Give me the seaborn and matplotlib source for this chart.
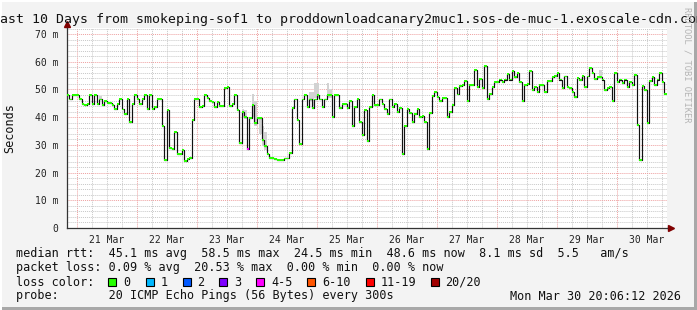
import numpy as np
import pandas as pd
import matplotlib
matplotlib.use("Agg")
import matplotlib.pyplot as plt
import matplotlib.dates as mdates
from matplotlib.patches import Rectangle
from matplotlib.ticker import MultipleLocator, FuncFormatter
import seaborn as sns

# ---------------- data ----------------
start_time = "2026-03-20 20:00"
view_start = "2026-03-20 20:06"
view_end = "2026-03-30 20:06"

median_ms = [
    48.0, 46.4, 48.0, 48.0, 48.0, 46.7, 44.9, 44.4, 44.9, 48.0,
    44.9, 48.0, 44.9, 46.4, 44.4, 45.9, 45.2, 45.2, 44.4, 43.1,
    44.9, 46.7, 42.8, 41.2, 46.7, 38.4, 44.9, 48.0, 46.7, 44.9,
    46.7, 48.0, 43.1, 48.0, 43.1, 43.6, 46.7, 46.7, 36.9, 24.4,
    42.6, 29.0, 28.5, 34.8, 26.6, 26.6, 28.1, 24.2, 24.8, 25.4,
    39.0, 46.6, 46.6, 43.8, 44.1, 48.0, 46.8, 45.8, 45.6, 43.8,
    45.4, 44.1, 44.1, 50.4, 50.8, 44.0, 44.7, 48.0, 42.6, 30.8,
    42.0, 40.2, 28.5, 39.6, 44.4, 37.8, 39.8, 39.6, 31.8, 29.7,
    26.6, 25.4, 25.2, 24.9, 24.7, 24.7, 24.7, 25.1, 25.1, 27.2,
    43.2, 46.4, 39.0, 30.2, 46.4, 48.0, 43.6, 46.4, 43.2, 46.4,
    48.0, 46.4, 43.6, 46.4, 48.0, 48.0, 40.0, 48.0, 48.0, 43.2,
    44.7, 44.7, 43.2, 45.9, 36.9, 43.8, 46.7, 38.4, 33.6, 42.6,
    31.4, 43.8, 48.0, 44.4, 44.4, 46.4, 44.7, 42.9, 41.1, 46.4,
    43.8, 44.7, 42.0, 43.2, 26.6, 36.9, 42.9, 41.5, 38.4, 41.3,
    42.9, 40.2, 40.5, 38.4, 28.5, 41.5, 47.6, 49.2, 47.3, 45.9,
    46.9, 46.9, 40.0, 42.0, 44.4, 50.4, 48.2, 51.2, 51.6, 53.2,
    45.9, 51.6, 51.6, 57.0, 50.8, 53.8, 50.4, 58.5, 46.7, 48.4,
    50.8, 52.8, 52.8, 53.6, 52.8, 53.6, 55.6, 53.6, 56.7, 54.4,
    56.1, 52.8, 45.8, 51.6, 52.0, 56.7, 49.7, 50.8, 49.2, 51.6,
    51.6, 49.2, 53.1, 53.1, 54.4, 54.8, 56.1, 53.6, 50.4, 54.7,
    51.0, 50.4, 49.2, 47.2, 54.2, 53.3, 54.8, 50.8, 54.7, 57.9,
    55.9, 53.8, 54.4, 54.4, 53.6, 49.7, 50.4, 50.8, 45.9, 55.9,
    52.8, 53.6, 52.3, 53.6, 50.8, 52.8, 51.6, 55.3, 37.2, 24.5,
    51.2, 49.7, 37.8, 53.1, 54.4, 51.6, 53.6, 56.0, 52.8, 48.4,
]

# points with packet loss (index -> loss class label)
loss_points = {72: "4-5"}

# smoke (spread of pings) where visible: index, low, high (ms)
smoke_index = [13, 70, 71, 74, 75, 77, 78, 79, 97, 98, 99, 100, 104, 105, 213]
smoke_low = [46.4, 40.0, 39.5, 40.0, 37.0, 34.0, 29.5, 28.0, 46.0, 44.0, 47.0, 47.0, 47.0, 47.0, 54.0]
smoke_high = [47.8, 43.0, 42.5, 48.5, 46.0, 40.0, 37.0, 34.5, 49.0, 49.0, 52.5, 52.5, 52.5, 50.0, 57.0]

loss_labels = ["0", "1", "2", "3", "4-5", "6-10", "11-19", "20/20"]
loss_colors = ["#26ff00", "#00b8ff", "#0059ff", "#7e00ff", "#ff00ff",
               "#ff5500", "#ff0000", "#a10000"]

y_ticks = [0, 10, 20, 30, 40, 50, 60, 70]

title = "Last 10 Days from smokeping-sof1 to proddownloadcanary2muc1.sos-de-muc-1.exoscale-cdn.com"
stat_lines = [
    "median rtt:  45.1 ms avg  58.5 ms max  24.5 ms min  48.6 ms now  8.1 ms sd  5.5   am/s",
    "packet loss: 0.09 % avg  20.53 % max  0.00 % min  0.00 % now",
]
probe_line = "probe:       20 ICMP Echo Pings (56 Bytes) every 300s"
stamp = "Mon Mar 30 20:06:12 2026"

# ---------------- frame ----------------
W, H = 697, 310
sns.set_style("white")
plt.rcParams["font.family"] = ["DejaVu Sans Mono"]
MONO = "DejaVu Sans Mono"

times = pd.date_range(start_time, periods=len(median_ms), freq="h")
df = pd.DataFrame({"time": times, "median": median_ms})
df["mid"] = df["time"] + pd.Timedelta(minutes=30)
df["loss"] = [loss_points.get(i, "0") for i in range(len(df))]

fig = plt.figure(figsize=(W / 100, H / 100), dpi=100, facecolor="#f3f3f3")
ax = fig.add_axes([67 / W, (H - 228) / H, 600 / W, 200 / H])
ax.set_facecolor("white")

# smoke
for i, lo, hi in zip(smoke_index, smoke_low, smoke_high):
    t0 = times[i]
    ax.fill_between([t0, t0 + pd.Timedelta(hours=1)], lo, hi,
                    color="#d2d2d2", lw=0, zorder=2)

sns.lineplot(data=df, x="time", y="median", drawstyle="steps-post",
             color="#111111", lw=0.85, estimator=None, ax=ax, zorder=3)

marker = [(-1, -0.7), (1, -0.7), (1, 0.7), (-1, 0.7), (-1, -0.7)]
sns.scatterplot(data=df, x="mid", y="median", hue="loss",
                palette=dict(zip(loss_labels, loss_colors)),
                hue_order=loss_labels, marker=marker, s=3.6, linewidth=0,
                legend=False, ax=ax, zorder=4)

ax.set_xlim(pd.Timestamp(view_start), pd.Timestamp(view_end))
ax.set_ylim(0, 72.2)
ax.set_xlabel("")
ax.set_ylabel("")

# grid
ax.yaxis.set_major_locator(plt.FixedLocator(y_ticks))
ax.yaxis.set_minor_locator(MultipleLocator(2))
ax.yaxis.set_major_formatter(FuncFormatter(lambda v, p: "0" if v == 0 else f"{int(v)} m"))
ax.xaxis.set_major_locator(mdates.HourLocator(byhour=[0]))
ax.xaxis.set_minor_locator(mdates.HourLocator(byhour=[6, 12, 18]))
ax.xaxis.set_major_formatter(FuncFormatter(lambda v, p: ""))


def minor_fmt(v, p):
    d = mdates.num2date(v)
    return d.strftime("%d %b") if d.hour == 12 else ""


ax.xaxis.set_minor_formatter(FuncFormatter(minor_fmt))
ax.set_axisbelow(True)
ax.grid(which="minor", color="#c8c8c8", ls=(0, (1, 1)), lw=0.7)
ax.grid(which="major", color="#eea0a0", ls=(0, (1, 1)), lw=0.7)

ax.tick_params(axis="both", which="both", direction="out", colors="#555555",
               labelcolor="#222222", labelsize=7, width=0.6)
ax.tick_params(axis="y", which="major", length=2, pad=4)
ax.tick_params(axis="y", which="minor", length=0)
ax.tick_params(axis="x", which="major", length=2, pad=2)
ax.tick_params(axis="x", which="minor", length=2, pad=3)
for lab in ax.get_xticklabels(minor=True) + ax.get_yticklabels():
    lab.set_fontfamily(MONO)

for s in ["top", "right"]:
    ax.spines[s].set_visible(False)
for s in ["left", "bottom"]:
    ax.spines[s].set_color("#333333")
    ax.spines[s].set_linewidth(0.9)

# axis extensions with arrowheads
ax.plot([0, 0], [1, 1.025], color="#333333", lw=0.9, transform=ax.transAxes, clip_on=False)
ax.plot([1, 1.006], [0, 0], color="#333333", lw=0.9, transform=ax.transAxes, clip_on=False)
ax.plot([0], [1.02], marker="^", color="#800000", markersize=4, transform=ax.transAxes, clip_on=False)
ax.plot([1.0067], [0], marker=">", color="#800000", markersize=4, transform=ax.transAxes, clip_on=False)

# ---------------- texts ----------------
def fx(x):
    return x / W


def fy(y):
    return 1 - y / H


fig.text(0.5, fy(19), title, ha="center", va="center", fontsize=9.5,
         family=MONO, color="#111111")
fig.text(fx(10), fy(128), "Seconds", rotation=90, ha="center", va="center",
         fontsize=8.5, family=MONO, color="#111111")
fig.text(fx(687), fy(65), "RRDTOOL / TOBI OETIKER", rotation=-90, ha="center",
         va="center", fontsize=6.3, family=MONO, color="#b4b4b4")

fs = 8.5
fig.text(fx(16), fy(254), stat_lines[0], ha="left", va="center", fontsize=fs, family=MONO, color="#111111")
fig.text(fx(16), fy(268), stat_lines[1], ha="left", va="center", fontsize=fs, family=MONO, color="#111111")
fig.text(fx(16), fy(282), "loss color:", ha="left", va="center", fontsize=fs, family=MONO, color="#111111")
box_x = [108, 145.5, 182.5, 219, 256, 307, 365.5, 430.5]
for bx, lab, col in zip(box_x, loss_labels, loss_colors):
    fig.patches.append(Rectangle((fx(bx), fy(286)), 8 / W, 8 / H, transform=fig.transFigure,
                                 facecolor=col, edgecolor="black", lw=0.8))
    fig.text(fx(bx + 15), fy(282), lab, ha="left", va="center", fontsize=fs, family=MONO, color="#111111")
fig.text(fx(16), fy(296), probe_line, ha="left", va="center", fontsize=fs, family=MONO, color="#111111")
fig.text(fx(681), fy(296), stamp, ha="right", va="center", fontsize=fs, family=MONO, color="#111111")

# 3D-ish border
fig.patches.append(Rectangle((0, 0), 1, 3 / H, transform=fig.transFigure, facecolor="#a8a8a8", lw=0))
fig.patches.append(Rectangle((1 - 3 / W, 0), 3 / W, 1, transform=fig.transFigure, facecolor="#a8a8a8", lw=0))
fig.patches.append(Rectangle((0, 1 - 2 / H), 1, 2 / H, transform=fig.transFigure, facecolor="#ffffff", lw=0))
fig.patches.append(Rectangle((0, 0), 2 / W, 1, transform=fig.transFigure, facecolor="#ffffff", lw=0))

fig.savefig("out.png", dpi=100, facecolor=fig.get_facecolor())
